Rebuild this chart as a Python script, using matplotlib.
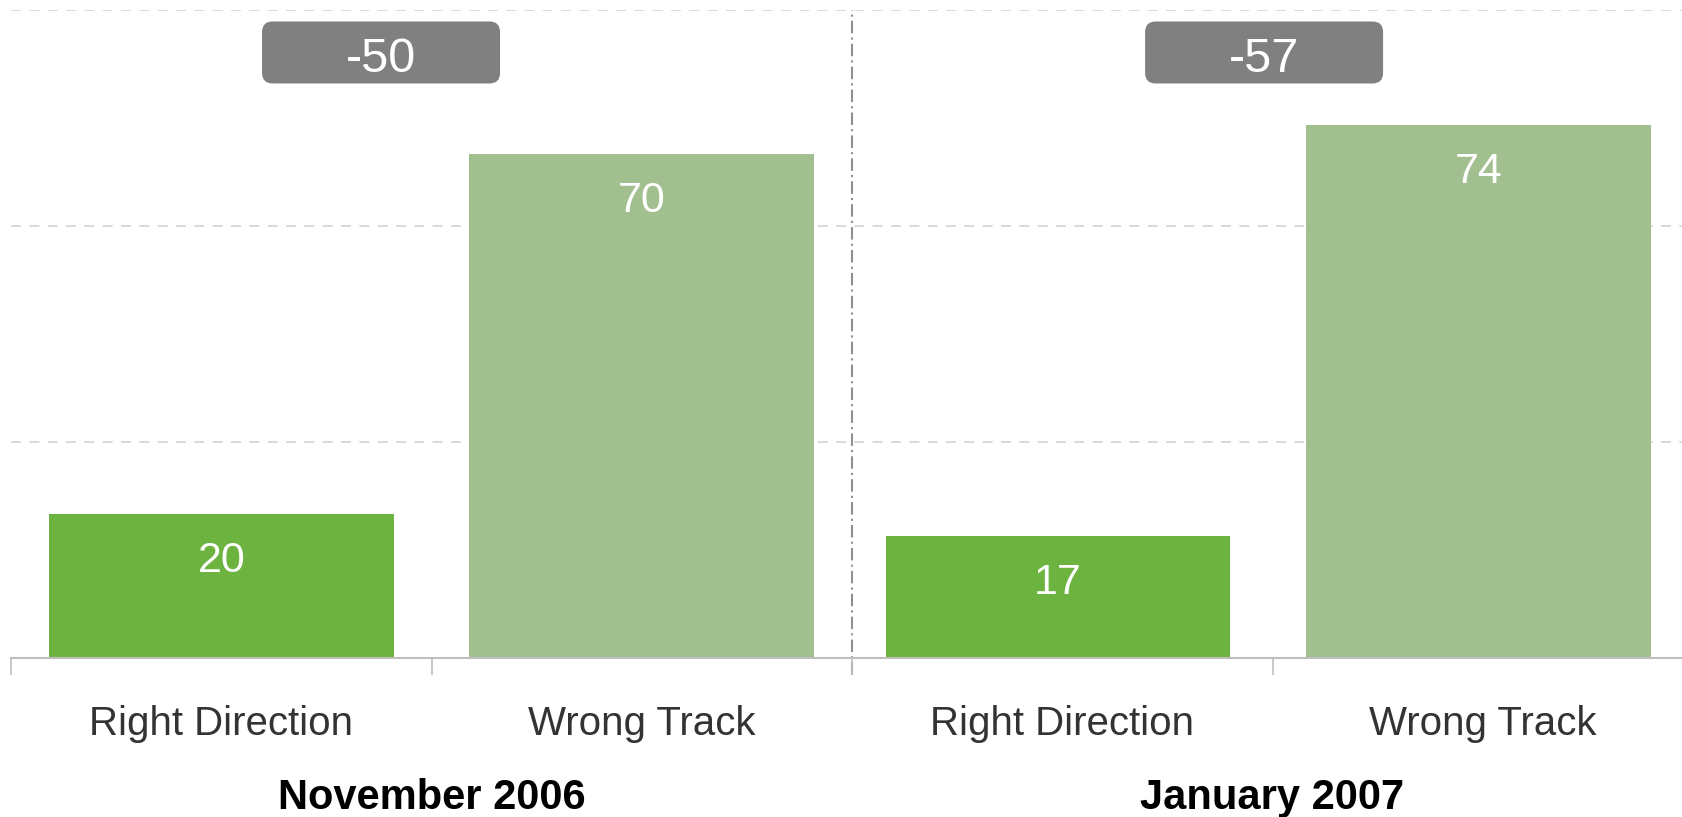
import matplotlib.pyplot as plt
from matplotlib.patches import FancyBboxPatch
from matplotlib.transforms import blended_transform_factory

plt.rcParams['font.family'] = ['Liberation Sans', 'DejaVu Sans']

periods = ['November 2006', 'January 2007']
answers = ['Right Direction', 'Wrong Track']
right_direction = [20, 17]
wrong_track = [70, 74]
box_pos = [0.38, 2.48]   # where the gap boxes sit

col_right = '#6db33f'
col_wrong = '#a2bf8f'

fig = plt.figure(figsize=(16.82, 8.17), dpi=100)
ax = fig.add_axes([11 / 1682, 1 - 658 / 817, 1682 / 1682, 648 / 817])

xs = []
vals = []
cols = []
labels = []
for i in range(len(periods)):
    xs += [2 * i, 2 * i + 1]
    vals += [right_direction[i], wrong_track[i]]
    cols += [col_right, col_wrong]
    labels += answers

bars = ax.bar([x - 0.01 * (x // 2) for x in xs], vals, width=0.82, color=cols, zorder=2)
for b, v in zip(bars, vals):
    ax.annotate(str(v), (b.get_x() + b.get_width() / 2, v), xytext=(0, -34),
                textcoords='offset points', ha='center', va='center',
                color='white', fontsize=31, zorder=3)

ax.set_xlim(-0.5, 3.5)
ax.set_ylim(0, 90)
ax.set_yticks([30, 60, 90])
ax.yaxis.grid(True, color='#d3d3d3', linestyle=(0, (6, 5)), linewidth=1.2)
ax.tick_params(axis='y', left=False, labelleft=False)

ax.set_xticks(xs)
ax.set_xticklabels(labels, fontsize=29, color='#333333')
ax.tick_params(axis='x', which='major', length=0, pad=34)
ax.set_xticks([-0.5, 0.5, 1.5, 2.5, 3.5], minor=True)
ax.tick_params(axis='x', which='minor', length=12, color='#bfbfbf', width=1.2)

for s in ['left', 'right', 'top']:
    ax.spines[s].set_visible(False)
ax.spines['bottom'].set_color('#bfbfbf')
ax.spines['bottom'].set_linewidth(1.5)

# separator between the two periods
ax.axvline(1.5, ymin=-0.026, ymax=1, color='#909090', linestyle=(0, (6, 2, 1, 2)),
           linewidth=1.5, clip_on=False, zorder=1)

# gap boxes
uy = 648 / 90
bw, bh = 238 / 420.5, 62 / uy
for i in range(len(periods)):
    gap = right_direction[i] - wrong_track[i]
    cx, cy = box_pos[i], 84.1
    p = FancyBboxPatch((cx - bw / 2, cy - bh / 2), bw, bh,
                       boxstyle='round,pad=0,rounding_size=0.025',
                       mutation_aspect=420.5 / uy,
                       facecolor='#808080', edgecolor='none', zorder=4, clip_on=False)
    ax.add_patch(p)
    ax.text(cx, cy - 1.0, str(gap), ha='center', va='center', color='white',
            fontsize=35, zorder=5)

trans = blended_transform_factory(ax.transData, ax.transAxes)
for i, per in enumerate(periods):
    ax.text(2 * i + 0.5, -0.216, per, transform=trans, ha='center', va='center',
            fontsize=30, fontweight='bold', color='black')

fig.savefig('out.png', dpi=100)
